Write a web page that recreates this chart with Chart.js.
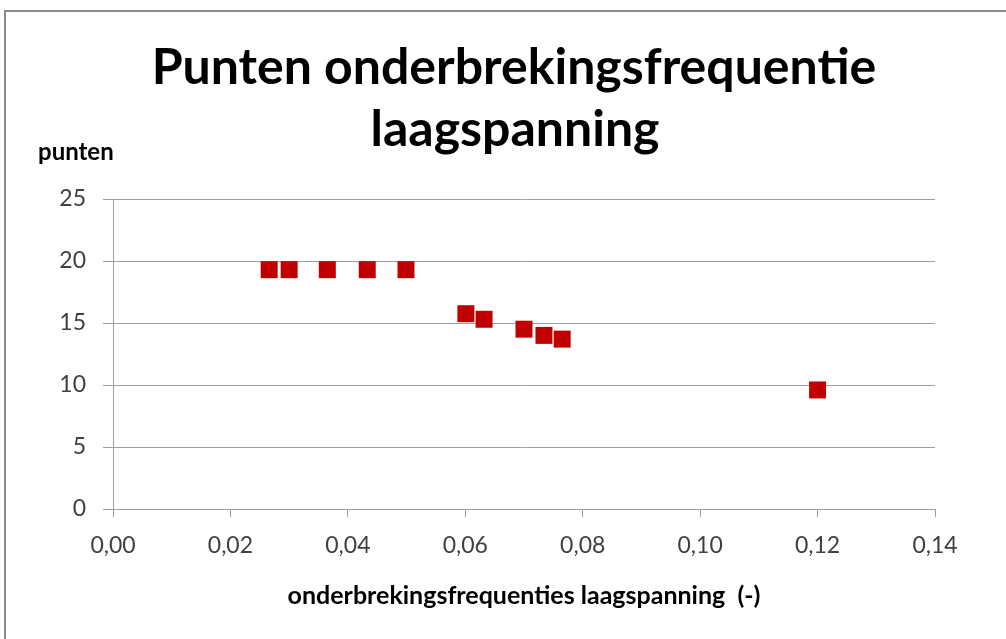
<!DOCTYPE html>
<html>
<head>
<meta charset="utf-8">
<script src="https://cdn.jsdelivr.net/npm/chart.js@4"></script>
<style>
  html, body { margin: 0; padding: 0; background: #fff; overflow: hidden; }
  #frame { position: absolute; left: 4px; top: 10px; width: 1020px; height: 650px; border: 2px solid #8c8c8c; box-sizing: border-box; }
  #wrap { position: absolute; left: 0; top: 0; width: 1006px; height: 639px; }
</style>
</head>
<body>
<div id="frame"></div>
<div id="wrap"><canvas id="chart" width="1006" height="639"></canvas></div>
<script>
// frequency of interruptions (x) vs points (y)
const frequencies = [0.0266, 0.0300, 0.0365, 0.0433, 0.0499, 0.0601, 0.0632, 0.0700, 0.0734, 0.0765, 0.1200];
const points = [19.3, 19.3, 19.3, 19.3, 19.3, 15.75, 15.3, 14.5, 14.0, 13.7, 9.6];
const titleLines = ['Punten onderbrekingsfrequentie', 'laagspanning'];
const xTitle = 'onderbrekingsfrequenties laagspanning  (-)';
const yTitle = 'punten';

const fontFamily = 'Lato, "Open Sans", sans-serif';

// chart title and the horizontal y-axis title, drawn as text
const textPlugin = {
  id: 'texts',
  afterDraw(chart) {
    const ctx = chart.ctx;
    ctx.save();
    ctx.fillStyle = '#000';
    ctx.textBaseline = 'alphabetic';
    ctx.textAlign = 'center';
    ctx.font = 'bold 50px ' + fontFamily;
    ctx.fillText(titleLines[0], 514, 84);
    ctx.fillText(titleLines[1], 515, 146);
    ctx.textAlign = 'left';
    ctx.textBaseline = 'middle';
    ctx.font = 'bold 24px ' + fontFamily;
    ctx.fillText(yTitle, 38, 152);
    ctx.restore();
  }
};

document.addEventListener('DOMContentLoaded', function () {
  const data = frequencies.map((x, i) => ({ x: x, y: points[i] }));
  const ctx = document.getElementById('chart').getContext('2d');

  new Chart(ctx, {
    type: 'scatter',
    data: {
      datasets: [{
        data: data,
        pointStyle: 'rect',
        pointRadius: 12,
        pointHoverRadius: 12,
        backgroundColor: '#c00000',
        borderColor: '#c00000',
        borderWidth: 0
      }]
    },
    options: {
      responsive: false,
      animation: false,
      layout: { padding: { left: 0, right: 71, top: 199, bottom: 0 } },
      plugins: {
        legend: { display: false },
        tooltip: { enabled: false },
        title: { display: false }
      },
      scales: {
        x: {
          type: 'linear',
          min: 0,
          max: 0.14,
          afterFit: s => { s.height = 130; },
          ticks: {
            stepSize: 0.02,
            color: '#404040',
            padding: 15,
            font: { family: fontFamily, size: 23 },
            callback: v => v.toFixed(2).replace('.', ',')
          },
          grid: {
            display: true,
            drawOnChartArea: false,
            drawTicks: true,
            tickLength: 8,
            color: '#a0a0a0'
          },
          border: { display: true, color: '#a0a0a0', width: 1 },
          title: {
            display: true,
            text: xTitle,
            color: '#000',
            font: { family: fontFamily, size: 25, weight: 'bold' },
            padding: { top: 0, bottom: 28 }
          }
        },
        y: {
          min: 0,
          max: 25,
          afterFit: s => { s.width = 113; },
          ticks: {
            stepSize: 5,
            color: '#404040',
            padding: 17,
            font: { family: fontFamily, size: 23 }
          },
          grid: {
            color: '#a0a0a0',
            tickLength: 10,
            drawTicks: true
          },
          border: { display: true, color: '#a0a0a0', width: 1 }
        }
      }
    },
    plugins: [textPlugin]
  });
});
</script>
</body>
</html>
